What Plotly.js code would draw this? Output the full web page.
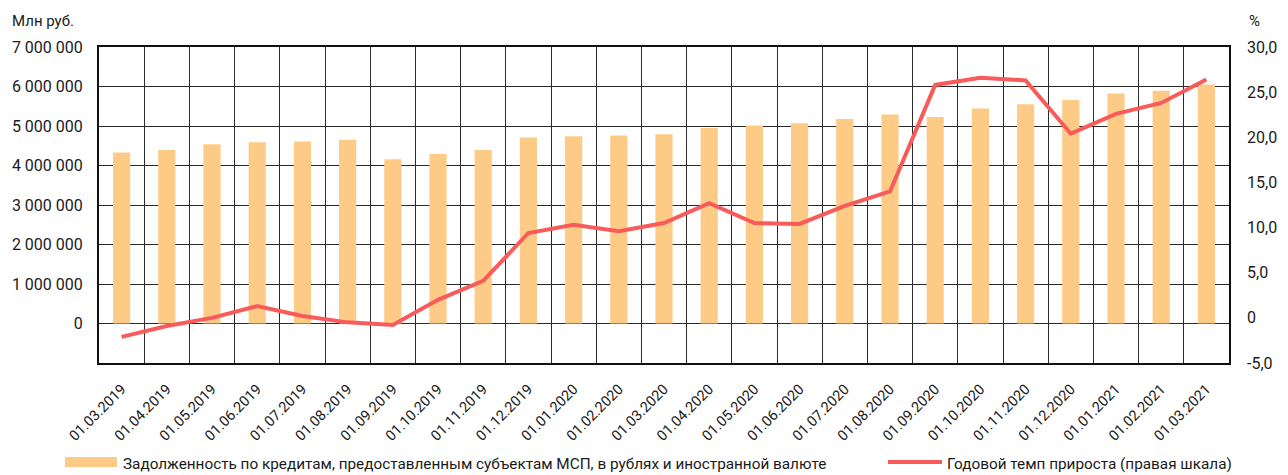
<!DOCTYPE html>
<html>
<head>
<meta charset="utf-8">
<script src="https://cdn.plot.ly/plotly-3.0.1.min.js"></script>
<style>html,body{margin:0;padding:0;background:#fff;}#chart{width:1288px;height:475px;}</style>
</head>
<body>
<div id="chart"></div>
<script>
var dates = ["01.03.2019","01.04.2019","01.05.2019","01.06.2019","01.07.2019","01.08.2019","01.09.2019","01.10.2019","01.11.2019","01.12.2019","01.01.2020","01.02.2020","01.03.2020","01.04.2020","01.05.2020","01.06.2020","01.07.2020","01.08.2020","01.09.2020","01.10.2020","01.11.2020","01.12.2020","01.01.2021","01.02.2021","01.03.2021"];
var debt = [4330000,4390000,4540000,4590000,4610000,4650000,4160000,4290000,4390000,4710000,4740000,4760000,4790000,4950000,5010000,5070000,5180000,5290000,5230000,5440000,5550000,5660000,5820000,5890000,6050000];
var growth = [-2.1,-0.9,0.0,1.3,0.2,-0.5,-0.8,2.0,4.1,9.4,10.3,9.6,10.5,12.7,10.5,10.4,12.4,14.0,25.8,26.6,26.3,20.4,22.6,23.8,26.4];
var leftTickVals = [0,1000000,2000000,3000000,4000000,5000000,6000000,7000000];
var leftTickText = ["0","1 000 000","2 000 000","3 000 000","4 000 000","5 000 000","6 000 000","7 000 000"];
var rightTickVals = [-5,0,5,10,15,20,25,30];
var rightTickText = ["-5,0","0","5,0","10,0","15,0","20,0","25,0","30,0"];
var seriesNames = ["Задолженность по кредитам, предоставленным субъектам МСП, в рублях и иностранной валюте","Годовой темп прироста (правая шкала)"];

var BAR = "#FECB87", LINE = "#F95B5B";
var L = 99, R = 1229, T = 47, B = 363;
var W = R - L, H = B - T;
function px(x){ return (x - L) / W; }
function py(y){ return (B - y) / H; }

var FAM = "Roboto, 'Noto Sans', sans-serif";
var TXT = "#1a1a1a";

var traces = [
  {type: "bar", x: dates, y: debt, name: seriesNames[0], marker: {color: BAR}, width: 0.38, yaxis: "y"},
  {type: "scatter", mode: "lines", x: dates, y: growth, name: seriesNames[1], line: {color: LINE, width: 4}, yaxis: "y2"}
];

var layout = {
  width: 1288, height: 475,
  margin: {l: L, r: 1288 - R, t: T, b: 475 - B},
  paper_bgcolor: "#fff", plot_bgcolor: "#fff",
  showlegend: false,
  font: {family: FAM, size: 16, color: TXT},
  xaxis: {
    type: "category", tickson: "boundaries", tickangle: -45,
    showgrid: true, gridcolor: "#2a2a2a", gridwidth: 1,
    showline: true, linecolor: "#111", linewidth: 2, mirror: true,
    ticks: "", ticklabelstandoff: 10, tickfont: {family: FAM, size: 14.5, color: TXT},
    range: [-0.5, dates.length - 0.5]
  },
  yaxis: {
    range: [-1000000, 7000000], tickvals: leftTickVals, ticktext: leftTickText,
    showgrid: true, gridcolor: "#2a2a2a", gridwidth: 1, zeroline: false,
    showline: true, linecolor: "#111", linewidth: 2, mirror: true,
    ticks: "", ticklabelstandoff: 11, tickfont: {family: FAM, size: 16, color: TXT}
  },
  yaxis2: {
    overlaying: "y", side: "right", range: [-5, 30],
    tickvals: rightTickVals, ticktext: rightTickText,
    showgrid: false, zeroline: false, showline: false, ticks: "",
    ticklabelstandoff: 17, tickfont: {family: FAM, size: 16, color: TXT}
  },
  shapes: [
    {type: "rect", xref: "paper", yref: "paper", x0: px(65), x1: px(117), y0: py(467), y1: py(457), fillcolor: BAR, line: {width: 0}},
    {type: "line", xref: "paper", yref: "paper", x0: px(888), x1: px(942), y0: py(462), y1: py(462), line: {color: LINE, width: 4}}
  ],
  annotations: [
    {xref: "paper", yref: "paper", x: px(10), y: py(21), xanchor: "left", yanchor: "middle", text: "Млн руб.", showarrow: false, font: {family: FAM, size: 15, color: TXT}},
    {xref: "paper", yref: "paper", x: px(1247), y: py(21), xanchor: "left", yanchor: "middle", text: "%", showarrow: false, font: {family: FAM, size: 15, color: TXT}},
    {xref: "paper", yref: "paper", x: px(121), y: py(464), xanchor: "left", yanchor: "middle", text: seriesNames[0], showarrow: false, font: {family: FAM, size: 15.3, color: TXT}},
    {xref: "paper", yref: "paper", x: px(945), y: py(464), xanchor: "left", yanchor: "middle", text: seriesNames[1], showarrow: false, font: {family: FAM, size: 15.3, color: TXT}}
  ]
};

Plotly.newPlot("chart", traces, layout, {displayModeBar: false, staticPlot: true});
</script>
</body>
</html>
